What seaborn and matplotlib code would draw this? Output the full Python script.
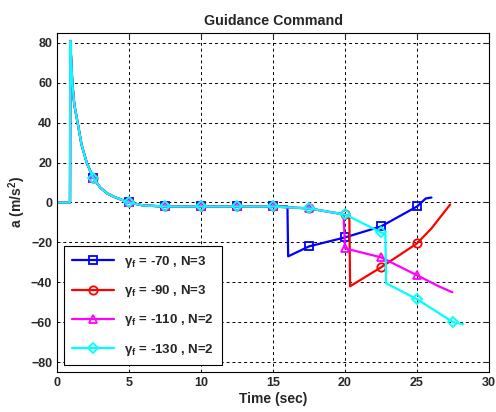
import numpy as np
import pandas as pd
import seaborn as sns
import matplotlib.pyplot as plt

# common part of all four runs
t_common = [0, 0.9, 0.92, 0.98, 1.06, 1.2, 1.43, 1.7, 2.06, 2.5, 3.0, 3.5, 4.0, 5.0, 6.0, 7.5, 10, 12.5, 15]
a_common = [0, 0, 81, 72, 60, 49, 40, 29, 20, 12.5, 7.5, 4.5, 2.7, 0, -1.5, -2, -2, -2, -2]

# tails after t = 15 s
t_70 = [16.0, 16.05, 17.5, 20, 22.5, 25, 25.6, 26.0]
a_70 = [-2, -27, -22, -17.5, -12, -2, 2, 2.5]
t_90 = [17.5, 20, 20.3, 20.35, 22.5, 25, 26, 27.3]
a_90 = [-3, -6, -7, -42, -32.5, -20.5, -13, -1]
t_110 = [17.5, 19.9, 20.0, 22.5, 25, 26.5, 27.45]
a_110 = [-3, -6, -23, -27.5, -36.5, -42, -45]
t_130 = [17.5, 20, 22.5, 22.8, 22.85, 25, 27.5, 28.2]
a_130 = [-3, -6, -15, -16, -40.5, -48.5, -60, -61]

labels = [r'$\gamma_f$ = -70 , N=3', r'$\gamma_f$ = -90 , N=3',
          r'$\gamma_f$ = -110 , N=2', r'$\gamma_f$ = -130 , N=2']
tails = [(t_70, a_70), (t_90, a_90), (t_110, a_110), (t_130, a_130)]
colors = ['#0000ff', '#ff0000', '#ff00ff', '#00ffff']
markers = ['s', 'o', '^', 'D']
msizes = [6, 6, 6, 5]

sns.set_style('white')
plt.rcParams['font.family'] = ['Liberation Sans', 'DejaVu Sans']
plt.rcParams['font.weight'] = 'bold'
plt.rcParams['mathtext.default'] = 'regular'

fig = plt.figure(figsize=(4.96, 4.12), dpi=100)
ax = fig.add_axes([0.115, 0.097, 0.871, 0.823])

for lab, (tt, aa), c, m, ms in zip(labels, tails, colors, markers, msizes):
    df = pd.DataFrame({'t': t_common + tt, 'a': a_common + aa})
    tv = df['t'].values
    # markers every 2.5 s, like the original plot
    idx = [i for i, v in enumerate(tv) if v >= 2.5 and abs(v / 2.5 - round(v / 2.5)) < 1e-6]
    sns.lineplot(data=df, x='t', y='a', ax=ax, sort=False, estimator=None,
                 color=c, lw=1.6, marker=m, markersize=ms, markevery=idx,
                 markerfacecolor='none', markeredgecolor=c, markeredgewidth=1.3,
                 label=lab)

ax.set_xlim(0, 30)
ax.set_ylim(-85, 85)
ax.set_xticks(np.arange(0, 31, 5))
ax.set_yticks(np.arange(-80, 81, 20))
ax.grid(True, color='black', linestyle=(0, (3, 3)), linewidth=0.7)
ax.tick_params(direction='in', top=True, right=True, labelsize=9, length=4)
for s in ax.spines.values():
    s.set_color('black')
    s.set_linewidth(0.8)
for lbl in ax.get_xticklabels() + ax.get_yticklabels():
    lbl.set_fontweight('bold')

ax.set_title('Guidance Command', fontsize=10.3, fontweight='bold', pad=6)
ax.set_xlabel('Time (sec)', fontsize=10, fontweight='bold', labelpad=2)
ax.set_ylabel('a (m/s$^2$)', fontsize=10, fontweight='bold', labelpad=2)

leg = ax.legend(loc='lower left', fontsize=9.5, handlelength=3.2, frameon=True,
                fancybox=False, framealpha=1, edgecolor='black',
                borderaxespad=0.5, labelspacing=1.0, borderpad=0.6)
leg.get_frame().set_linewidth(0.8)
for txt in leg.get_texts():
    txt.set_fontweight('bold')

fig.savefig('out.png', dpi=100)
